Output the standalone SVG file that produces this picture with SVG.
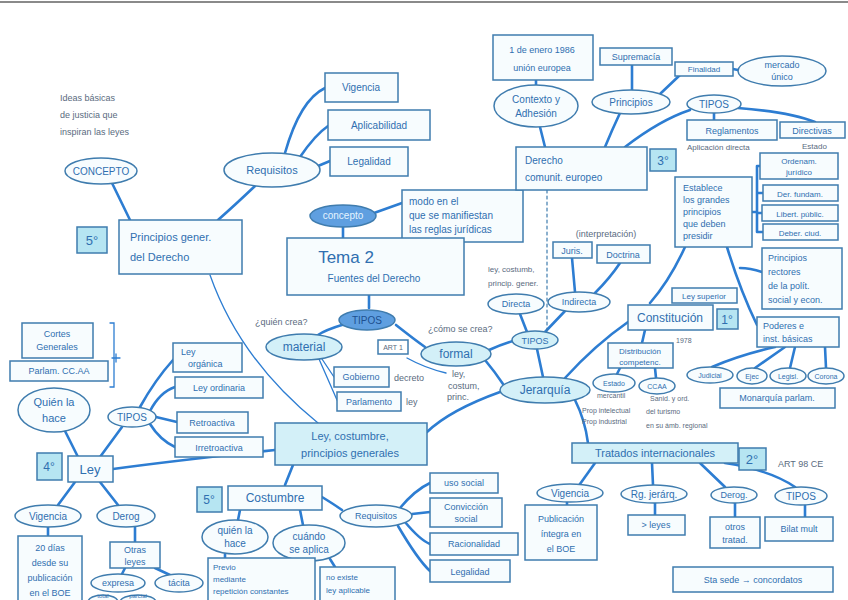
<svg xmlns="http://www.w3.org/2000/svg" width="848" height="600" viewBox="0 0 848 600">
<style>
text{font-family:"Liberation Sans","DejaVu Sans",sans-serif;font-size:10px;fill:#2f6fb0;text-anchor:middle}
.s{text-anchor:start}
.a{fill:#5a6b80;font-size:9px}
.a2{fill:#5a6b80;font-size:8px;text-anchor:start}
rect,ellipse{fill:#f7fcfe;stroke:#3f7cae;stroke-width:1.5}
.n{fill:#b6e5f2}
.f1{fill:#5f9fe0}
.f2{fill:#d3f0f8}
.c path{fill:none;stroke:#2d7dd2;stroke-width:2.6;stroke-linecap:round}
.c .th{stroke-width:1.3}
.c .ds{stroke-width:1.2;stroke-dasharray:3 3;stroke:#3f7cae}
</style>
<rect width="848" height="600" style="fill:#fff;stroke:none"/>
<line x1="0" y1="2" x2="848" y2="2" stroke="#8a8a8a" stroke-width="2"/>

<g id="connectors" class="c">
<path d="M112,183 L130,220"/>
<path d="M255,186 Q235,205 218,220"/>
<path d="M285,153 Q300,100 325,88"/>
<path d="M300,157 Q315,135 328,126"/>
<path d="M318,166 L330,161"/>
<path class="th" d="M210,275 Q240,360 318,423"/>
<path d="M374,213 L402,203"/>
<path d="M343,227 L343,238"/>
<path d="M369,295 L369,308"/>
<path d="M345,324 Q325,330 318,335"/>
<path d="M396,325 Q415,340 425,347"/>
<path d="M489,350 Q500,345 513,341"/>
<path d="M485,360 Q495,372 503,384"/>
<path d="M543,377 L537,349"/>
<path d="M527,332 L520,314"/>
<path d="M545,332 L565,311"/>
<path d="M575,292 L572,258"/>
<path d="M595,293 Q610,278 620,263"/>
<path class="ds" d="M547,190 L547,331"/>
<path d="M545,147 L540,127"/>
<path d="M536,85 L536,80"/>
<path d="M605,147 Q612,130 620,113"/>
<path d="M625,147 Q660,120 690,110"/>
<path d="M632,90 L632,65"/>
<path d="M660,94 L680,75"/>
<path d="M733,69 L738,70"/>
<path d="M714,113 L714,120"/>
<path d="M738,108 Q790,112 815,122"/>
<path d="M752,212 H757 M757,166 V232 M757,166 H760 M757,193 H763 M757,213 H762 M757,232 H763"/>
<path d="M650,303 Q670,280 685,247"/>
<path d="M727,247 Q740,290 757,325"/>
<path d="M740,268 Q750,268 762,272"/>
<path d="M775,347 Q740,355 712,367"/>
<path d="M785,347 L755,368"/>
<path d="M795,347 L790,368"/>
<path d="M825,347 L826,368"/>
<path d="M565,378 Q595,345 628,322"/>
<path d="M645,330 L642,343"/>
<path d="M620,368 L617,374"/>
<path d="M655,368 L656,378"/>
<path d="M575,400 Q585,420 588,443"/>
<path d="M500,392 Q450,410 427,432"/>
<path d="M595,463 L580,484"/>
<path d="M652,463 L653,485"/>
<path d="M700,463 L725,487"/>
<path d="M725,463 Q770,470 795,487"/>
<path d="M567,502 L567,505"/>
<path d="M655,503 L655,515"/>
<path d="M735,503 L735,517"/>
<path d="M805,505 L805,517"/>
<path d="M293,465 L285,485"/>
<path d="M322,497 Q335,505 342,510"/>
<path d="M400,508 Q415,490 430,483"/>
<path d="M412,514 L430,512"/>
<path d="M405,522 Q420,540 430,544"/>
<path d="M398,526 Q418,560 430,571"/>
<path d="M240,510 L238,520"/>
<path d="M300,510 L303,525"/>
<path d="M225,554 L225,558"/>
<path d="M330,559 L335,567"/>
<path d="M275,450 Q180,460 113,469"/>
<path d="M78,457 L65,431"/>
<path d="M100,457 L122,427"/>
<path d="M140,407 Q155,380 173,360"/>
<path d="M150,411 Q160,392 175,387"/>
<path d="M156,417 L177,422"/>
<path d="M150,424 Q160,440 175,447"/>
<path d="M75,482 L58,505"/>
<path d="M100,482 L118,505"/>
<path d="M48,527 L48,535"/>
<path d="M135,527 L135,545"/>
<path d="M125,568 L122,574"/>
<path d="M155,568 L170,575"/>
<path class="th" d="M407,358 Q425,368 446,373"/>
<path class="th" d="M322,359 L334,377 M319,359 L337,400"/>
<path class="th" d="M110,323 H114 V387 H110 M112,358 H120 M116,354 V362"/>
</g>

<g id="ideas"><text class="s a" x="60" y="101">Ideas básicas</text><text class="s a" x="60" y="118">de justicia que</text><text class="s a" x="60" y="135">inspiran las leyes</text></g>

<g id="concepto1"><ellipse cx="101" cy="171" rx="36" ry="13"/><text x="101" y="175">CONCEPTO</text></g>
<g id="requisitos1"><ellipse cx="272" cy="170" rx="48" ry="17"/><text x="272" y="174" style="font-size:11px">Requisitos</text></g>
<g id="vigencia1"><rect x="325" y="73" width="73" height="29"/><text x="361" y="91">Vigencia</text></g>
<g id="aplicabilidad"><rect x="328" y="110" width="102" height="30"/><text x="379" y="129">Aplicabilidad</text></g>
<g id="legalidad1"><rect x="330" y="147" width="78" height="29"/><text x="369" y="165">Legalidad</text></g>
<g id="principios"><rect x="119" y="220" width="123" height="54"/><text class="s" x="130" y="241" style="font-size:11px">Principios gener.</text><text class="s" x="130" y="261" style="font-size:11px">del Derecho</text></g>
<g id="num5a"><rect class="n" x="77" y="227" width="30" height="26"/><text x="92" y="245" style="font-size:13px">5°</text></g>

<g id="concepto2"><ellipse class="f1" cx="343" cy="216" rx="33" ry="11"/><text x="343" y="219" style="fill:#e4f4ff">concepto</text></g>
<g id="modo"><rect x="402" y="190" width="121" height="52"/><text class="s" x="409" y="205">modo en el</text><text class="s" x="409" y="219">que se manifiestan</text><text class="s" x="409" y="233">las reglas jurídicas</text></g>
<g id="tema2"><rect x="287" y="238" width="177" height="57"/><text x="346" y="263" style="font-size:17px">Tema 2</text><text x="374" y="282">Fuentes del Derecho</text></g>
<g id="tipos1"><ellipse class="f1" cx="367" cy="320" rx="28" ry="10"/><text x="367" y="324" style="fill:#1d4f8f">TIPOS</text></g>
<text class="s a" x="255" y="325">¿quién crea?</text>
<g id="material"><ellipse class="f2" cx="304" cy="347" rx="38" ry="13"/><text x="304" y="351" style="font-size:12px">material</text></g>
<text class="s a" x="428" y="332">¿cómo se crea?</text>
<g id="formal"><ellipse class="f2" cx="456" cy="354" rx="35" ry="12"/><text x="456" y="358" style="font-size:12px">formal</text></g>
<g id="art1"><rect x="378" y="340" width="30" height="14" style="fill:#fff"/><text x="393" y="350" class="a" style="font-size:7px">ART 1</text></g>
<g id="gobierno"><rect x="334" y="367" width="55" height="20"/><text x="361" y="380" style="font-size:9px">Gobierno</text></g>
<text class="s a" x="394" y="381">decreto</text>
<g id="parlamento"><rect x="337" y="392" width="64" height="19"/><text x="369" y="405" style="font-size:9px">Parlamento</text></g>
<text class="s a" x="406" y="405">ley</text>
<g id="leycostum"><text class="s a" x="452" y="377">ley,</text><text class="s a" x="448" y="389">costum,</text><text class="s a" x="447" y="400">princ.</text></g>

<g id="jerarquia"><ellipse class="f2" cx="545" cy="390" rx="45" ry="13"/><text x="545" y="394" style="font-size:12px">Jerarquía</text></g>
<g id="tipos2"><ellipse class="f2" cx="535" cy="340" rx="23" ry="9"/><text x="535" y="344" style="font-size:9px">TIPOS</text></g>
<g id="directa"><ellipse cx="516" cy="304" rx="28" ry="10"/><text x="516" y="307" style="font-size:9px">Directa</text></g>
<g id="indirecta"><ellipse cx="579" cy="302" rx="31" ry="10"/><text x="579" y="305" style="font-size:9px">Indirecta</text></g>
<g id="leycostumb2"><text class="s a" x="488" y="272" style="font-size:8px">ley, costumb,</text><text class="s a" x="488" y="286" style="font-size:8px">princip. gener.</text></g>
<g id="juris"><rect x="553" y="242" width="39" height="16"/><text x="572" y="254" style="font-size:9px">Juris.</text></g>
<g id="doctrina"><rect x="597" y="245" width="53" height="18"/><text x="623" y="258" style="font-size:9px">Doctrina</text></g>
<text x="606" y="237" class="a">(interpretación)</text>

<g id="dcomunit"><rect x="516" y="147" width="131" height="43"/><text class="s" x="525" y="164">Derecho</text><text class="s" x="525" y="181">comunit. europeo</text></g>
<g id="num3"><rect class="n" x="650" y="149" width="26" height="22"/><text x="663" y="165" style="font-size:12px">3°</text></g>
<g id="contexto"><ellipse cx="536" cy="106" rx="42" ry="21"/><text x="536" y="103">Contexto y</text><text x="536" y="117">Adhesión</text></g>
<g id="enero"><rect x="493" y="35" width="100" height="45"/><text x="542" y="53" style="font-size:9px">1 de enero 1986</text><text x="542" y="71" style="font-size:9px">unión europea</text></g>
<g id="principios2"><ellipse cx="631" cy="102" rx="39" ry="12"/><text x="631" y="106">Principios</text></g>
<g id="supremacia"><rect x="600" y="48" width="72" height="17"/><text x="636" y="60" style="font-size:9px">Supremacía</text></g>
<g id="finalidad"><rect x="675" y="62" width="58" height="14"/><text x="704" y="72" style="font-size:8px">Finalidad</text></g>
<g id="mercado"><ellipse cx="782" cy="71" rx="44" ry="15"/><text x="782" y="68" style="font-size:9px">mercado</text><text x="782" y="80" style="font-size:9px">único</text></g>
<g id="tipos3"><ellipse cx="714" cy="104" rx="27" ry="9"/><text x="714" y="108">TIPOS</text></g>
<g id="reglamentos"><rect x="687" y="120" width="90" height="20"/><text x="732" y="134" style="font-size:9px">Reglamentos</text></g>
<text class="a2" x="687" y="150">Aplicación directa</text>
<g id="directivas"><rect x="780" y="122" width="65" height="16"/><text x="812" y="134" style="font-size:9px">Directivas</text></g>
<text class="a2" x="802" y="149">Estado</text>

<g id="establece"><rect x="675" y="177" width="77" height="70"/><text class="s" x="683" y="191" style="font-size:9px">Establece</text><text class="s" x="683" y="203" style="font-size:9px">los grandes</text><text class="s" x="683" y="215" style="font-size:9px">principios</text><text class="s" x="683" y="227" style="font-size:9px">que deben</text><text class="s" x="683" y="239" style="font-size:9px">presidir</text></g>
<g id="ordenam"><rect x="760" y="153" width="78" height="26"/><text x="799" y="164" style="font-size:8px">Ordenam.</text><text x="799" y="175" style="font-size:8px">jurídico</text></g>
<g id="derfund"><rect x="763" y="185" width="75" height="16"/><text x="800" y="197" style="font-size:8px">Der. fundam.</text></g>
<g id="libert"><rect x="762" y="205" width="76" height="16"/><text x="800" y="217" style="font-size:8px">Libert. públic.</text></g>
<g id="deber"><rect x="763" y="224" width="75" height="16"/><text x="800" y="236" style="font-size:8px">Deber. ciud.</text></g>
<g id="prectores"><rect x="762" y="248" width="80" height="61"/><text class="s" x="768" y="261" style="font-size:9px">Principios</text><text class="s" x="768" y="275" style="font-size:9px">rectores</text><text class="s" x="768" y="289" style="font-size:9px">de la polít.</text><text class="s" x="768" y="303" style="font-size:9px">social y econ.</text></g>
<g id="poderes"><rect x="757" y="317" width="82" height="30"/><text class="s" x="763" y="329" style="font-size:9px">Poderes e</text><text class="s" x="763" y="342" style="font-size:9px">inst. básicas</text></g>
<g id="judicial"><ellipse cx="710" cy="375" rx="23" ry="8"/><text x="710" y="378" style="font-size:7px">Judicial</text></g>
<g id="ejec"><ellipse cx="752" cy="376" rx="15" ry="8"/><text x="752" y="379" style="font-size:7px">Ejec</text></g>
<g id="legisl"><ellipse cx="788" cy="376" rx="18" ry="8"/><text x="788" y="379" style="font-size:7px">Legisl.</text></g>
<g id="corona"><ellipse cx="826" cy="376" rx="18" ry="8"/><text x="826" y="379" style="font-size:7px">Corona</text></g>
<g id="monarquia"><rect x="720" y="388" width="115" height="20"/><text x="777" y="401" style="font-size:9px">Monarquía parlam.</text></g>
<g id="leysup"><rect x="672" y="288" width="65" height="15"/><text x="704" y="299" style="font-size:8px">Ley superior</text></g>
<g id="constitucion"><rect x="628" y="305" width="85" height="25"/><text x="670" y="322" style="font-size:12px">Constitución</text></g>
<g id="num1"><rect class="n" x="717" y="309" width="21" height="20"/><text x="727" y="324" style="font-size:12px">1°</text></g>
<text class="a2" x="676" y="343" style="font-size:7px">1978</text>
<g id="distrib"><rect x="608" y="343" width="65" height="25"/><text x="640" y="354" style="font-size:8px">Distribución</text><text x="640" y="365" style="font-size:8px">competenc.</text></g>
<g id="estado"><ellipse cx="614" cy="383" rx="21" ry="9"/><text x="614" y="386" style="font-size:7px">Estado</text></g>
<g id="ccaa"><ellipse cx="657" cy="386" rx="18" ry="8"/><text x="657" y="389" style="font-size:7px">CCAA</text></g>
<g id="compet"><text class="a2" x="597" y="398" style="font-size:7px">mercantil</text><text class="a2" x="650" y="401" style="font-size:7px">Sanid. y ord.</text><text class="a2" x="582" y="413" style="font-size:7px">Prop intelectual</text><text class="a2" x="646" y="414" style="font-size:7px">del turismo</text><text class="a2" x="582" y="424" style="font-size:7px">Prop industrial</text><text class="a2" x="646" y="428" style="font-size:7px">en su ámb. regional</text></g>

<g id="tratados"><rect class="f2" x="572" y="443" width="166" height="20"/><text x="655" y="457" style="font-size:11px">Tratados internacionales</text></g>
<g id="num2"><rect class="n" x="739" y="448" width="27" height="22"/><text x="752" y="464" style="font-size:13px">2°</text></g>
<text class="s a" x="778" y="467">ART 98 CE</text>
<g id="vig2"><ellipse cx="570" cy="493" rx="33" ry="9"/><text x="570" y="497" style="font-size:10px">Vigencia</text></g>
<g id="pub"><rect x="525" y="505" width="72" height="55"/><text x="561" y="522" style="font-size:9px">Publicación</text><text x="561" y="537" style="font-size:9px">íntegra en</text><text x="561" y="552" style="font-size:9px">el BOE</text></g>
<g id="jer2"><ellipse cx="654" cy="494" rx="33" ry="9"/><text x="654" y="498" style="font-size:10px">Rg. jerárq.</text></g>
<g id="leyes2"><rect x="628" y="515" width="57" height="20"/><text x="656" y="528" style="font-size:9px">&gt; leyes</text></g>
<g id="derog2"><ellipse cx="734" cy="495" rx="23" ry="8"/><text x="734" y="498" style="font-size:9px">Derog.</text></g>
<g id="otros"><rect x="710" y="517" width="50" height="31"/><text x="735" y="530" style="font-size:9px">otros</text><text x="735" y="543" style="font-size:9px">tratad.</text></g>
<g id="tipos4"><ellipse cx="801" cy="496" rx="26" ry="9"/><text x="801" y="500">TIPOS</text></g>
<g id="bilat"><rect x="765" y="517" width="68" height="24"/><text x="799" y="532" style="font-size:9px">Bilat   mult</text></g>
<g id="santa"><rect x="673" y="567" width="160" height="25"/><text x="753" y="583" style="font-size:9px">Sta sede → concordatos</text></g>

<g id="leycostumbre"><rect class="f2" x="275" y="423" width="152" height="42"/><text x="350" y="440" style="font-size:11px">Ley, costumbre,</text><text x="350" y="457" style="font-size:11px">principios generales</text></g>
<g id="cortes"><rect x="22" y="323" width="71" height="35"/><text x="57" y="337" style="font-size:9px">Cortes</text><text x="57" y="350" style="font-size:9px">Generales</text></g>
<g id="parlam"><rect x="10" y="361" width="98" height="20"/><text x="59" y="374" style="font-size:9px">Parlam. CC.AA</text></g>
<g id="quien1"><ellipse cx="54" cy="410" rx="36" ry="22"/><text x="54" y="406" style="font-size:11px">Quién la</text><text x="54" y="422" style="font-size:11px">hace</text></g>
<g id="tipos5"><ellipse cx="132" cy="417" rx="24" ry="10"/><text x="132" y="421">TIPOS</text></g>
<g id="organica"><rect x="173" y="343" width="69" height="29"/><text class="s" x="181" y="355" style="font-size:9px">Ley</text><text class="s" x="188" y="367" style="font-size:9px">orgánica</text></g>
<g id="ordinaria"><rect x="175" y="377" width="88" height="21"/><text x="219" y="391" style="font-size:9px">Ley ordinaria</text></g>
<g id="retro"><rect x="177" y="412" width="71" height="21"/><text x="212" y="426" style="font-size:9px">Retroactiva</text></g>
<g id="irretro"><rect x="175" y="437" width="88" height="20"/><text x="219" y="451" style="font-size:9px">Irretroactiva</text></g>
<g id="num4"><rect class="n" x="37" y="453" width="25" height="27"/><text x="49" y="471" style="font-size:12px">4°</text></g>
<g id="ley"><rect x="68" y="456" width="45" height="26"/><text x="90" y="474" style="font-size:13px">Ley</text></g>
<g id="vig3"><ellipse cx="48" cy="516" rx="33" ry="11"/><text x="48" y="520">Vigencia</text></g>
<g id="dias"><rect x="18" y="536" width="64" height="70"/><text x="50" y="551" style="font-size:9px">20 días</text><text x="50" y="566" style="font-size:9px">desde su</text><text x="50" y="581" style="font-size:9px">publicación</text><text x="50" y="596" style="font-size:9px">en el BOE</text></g>
<g id="derog3"><ellipse cx="126" cy="516" rx="29" ry="11"/><text x="126" y="520">Derog</text></g>
<g id="otras"><rect x="110" y="542" width="50" height="26"/><text x="135" y="553" style="font-size:9px">Otras</text><text x="135" y="565" style="font-size:9px">leyes</text></g>
<g id="expresa"><ellipse cx="118" cy="583" rx="27" ry="9"/><text x="118" y="586" style="font-size:9px">expresa</text></g>
<g id="tacita"><ellipse cx="179" cy="583" rx="24" ry="9"/><text x="179" y="586" style="font-size:9px">tácita</text></g>
<g id="total"><ellipse cx="103" cy="602" rx="15" ry="7"/><text x="103" y="598" style="font-size:6px">total</text></g>
<g id="parcial"><ellipse cx="138" cy="602" rx="18" ry="7"/><text x="138" y="598" style="font-size:6px">parcial</text></g>

<g id="costumbre"><rect x="228" y="486" width="94" height="24"/><text x="275" y="502" style="font-size:12px">Costumbre</text></g>
<g id="num5b"><rect class="n" x="197" y="487" width="25" height="25"/><text x="209" y="504" style="font-size:12px">5°</text></g>
<g id="quien2"><ellipse cx="235" cy="537" rx="33" ry="17"/><text x="235" y="534">quién la</text><text x="235" y="547">hace</text></g>
<g id="cuando"><ellipse cx="309" cy="543" rx="36" ry="18"/><text x="309" y="540">cuándo</text><text x="309" y="553">se aplica</text></g>
<g id="previo"><rect x="208" y="558" width="107" height="44"/><text class="s" x="213" y="570" style="font-size:8px">Previo</text><text class="s" x="213" y="582" style="font-size:8px">mediante</text><text class="s" x="213" y="594" style="font-size:8px">repetición constantes</text></g>
<g id="noexiste"><rect x="320" y="567" width="75" height="35"/><text class="s" x="326" y="580" style="font-size:8px">no existe</text><text class="s" x="326" y="593" style="font-size:8px">ley aplicable</text></g>
<g id="req2"><ellipse cx="376" cy="516" rx="36" ry="11"/><text x="376" y="519" style="font-size:9px">Requisitos</text></g>
<g id="uso"><rect x="430" y="473" width="68" height="20"/><text x="464" y="486" style="font-size:9px">uso social</text></g>
<g id="conv"><rect x="430" y="498" width="72" height="29"/><text x="466" y="510" style="font-size:9px">Convicción</text><text x="466" y="522" style="font-size:9px">social</text></g>
<g id="racional"><rect x="430" y="533" width="88" height="22"/><text x="474" y="547" style="font-size:9px">Racionalidad</text></g>
<g id="legal2"><rect x="430" y="560" width="80" height="22"/><text x="470" y="575" style="font-size:9px">Legalidad</text></g>
</svg>
